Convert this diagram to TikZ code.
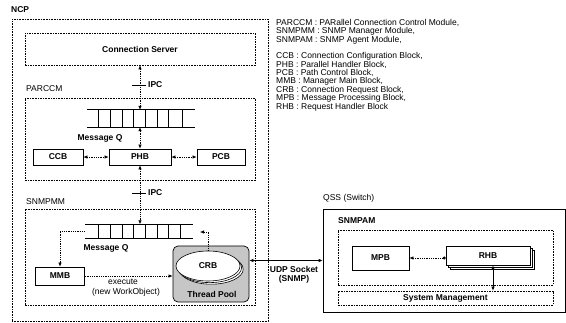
\documentclass[tikz,border=0pt]{standalone}
\usepackage{fontspec}
\setmainfont{Liberation Sans}
\usetikzlibrary{arrows.meta,shapes.geometric,shadows}
\begin{document}
\begin{tikzpicture}[x=1pt,y=-1pt,
  every node/.style={font=\fontsize{8.5}{8.5}\selectfont, inner sep=0pt},
  lbl/.style={font=\fontsize{8.5}{8.5}\selectfont\bfseries},
  ncpbox/.style={draw, line width=0.9pt, dash pattern=on 1pt off 0.6pt},
  dbox/.style={draw, line width=0.6pt, dash pattern=on 1.6pt off 1pt},
  sbox/.style={draw, line width=0.7pt},
  conn/.style={line width=0.6pt, dash pattern=on 1pt off 0.8pt, >={Latex[length=4pt,width=3.4pt]}},
  sconn/.style={line width=0.7pt, >={Latex[length=4pt,width=3.4pt]}},
  qline/.style={line width=0.8pt},
  qbar/.style={line width=0.5pt},
  tickline/.style={line width=0.7pt}]
\useasboundingbox (0,0) rectangle (566,323);

% ---------------- NCP ----------------
\node[anchor=west, lbl] (ncpl) at (11,10) {NCP};
\node[ncpbox, minimum width=256, minimum height=302] (ncp) at (140,170) {};

\node[dbox, minimum width=230, minimum height=32, lbl] (cs) at (140,49) {Connection Server};

% PARCCM
\node[anchor=west] (parl) at (26,89) {PARCCM};
\node[dbox, minimum width=230, minimum height=82] (par) at (140,139) {};
\node[minimum width=108, minimum height=17] (q1) at (141,118.5) {};
\draw[qline] (q1.north west) -- (q1.north east) (q1.south west) -- (q1.south east);
\foreach \x in {98,110,122,133,145,157,168,182} \draw[qbar] (\x,110) -- (\x,127);
\node[lbl] (mq1) at (100,138) {Message Q};

\node[sbox, minimum width=50, minimum height=16, lbl] (ccb) at (58,157) {CCB};
\node[sbox, minimum width=62, minimum height=16, lbl] (phb) at (140,157) {PHB};
\node[sbox, minimum width=48, minimum height=16, lbl] (pcb) at (221,157) {PCB};

\draw[conn,<->] (cs.south) -- (cs.south |- q1.north);
\coordinate (t1a) at (132,85);
\coordinate (t1b) at (146,85);
\draw[tickline] (t1a) -- (t1b);
\node[anchor=west, lbl] (ipc1) at (148,85) {IPC};
\draw[conn,<->] (phb.north |- q1.south) -- (phb.north);
\draw[conn,<->] (ccb.east) -- (phb.west);
\draw[conn,<->] (phb.east) -- (pcb.west);

% SNMPMM
\node[anchor=west] (snmpl) at (26,202) {SNMPMM};
\node[dbox, minimum width=230, minimum height=96] (snm) at (140,257) {};
\node[minimum width=108, minimum height=14] (q2) at (139,231.5) {};
\draw[qline] (q2.north west) -- (q2.north east) (q2.south west) -- (q2.south east);
\foreach \x in {98,110,122,133,145,157,168,180} \draw[qbar] (\x,224.5) -- (\x,238.5);
\node[lbl] (mq2) at (106,248) {Message Q};

\draw[conn,<->] (phb.south) -- (phb.south |- q2.north);
\coordinate (t2a) at (132,193);
\coordinate (t2b) at (146,193);
\draw[tickline] (t2a) -- (t2b);
\node[anchor=west, lbl] (ipc2) at (148,193) {IPC};

\node[sbox, minimum width=49, minimum height=18, lbl] (mmb) at (60,276) {MMB};
\draw[conn,->] (q2.west) -| (mmb.north);

\node[draw, line width=0.7pt, rounded corners=5pt, fill=gray!45, minimum width=76, minimum height=56] (tp) at (211,274) {};
\node[ellipse, draw, line width=0.6pt, fill=white, minimum width=64, minimum height=30,
  double copy shadow={shadow xshift=1.6pt, shadow yshift=-1.6pt, draw, fill=white}, lbl] (crb) at (208,266) {CRB};
\node[lbl] (tpl) at (212,294) {Thread Pool};

\draw[conn,->] (mmb.east) -- (mmb.east -| tp.west);
\node (exe) at (123,282) {execute};
\node (nwo) at (126,292) {(new WorkObject)};

\coordinate (qret) at (200,232);
\draw[conn,->] (crb.north) |- (qret);

% ---------------- QSS ----------------
\node[anchor=west] (qssl) at (323,198) {QSS (Switch)};
\node[sbox, line width=0.6pt, minimum width=242, minimum height=103] (qss) at (444,260.5) {};
\node[anchor=west, lbl] (snal) at (338,221) {SNMPAM};
\node[dbox, minimum width=215, minimum height=55] (sna) at (445.5,257.5) {};
\node[sbox, minimum width=57, minimum height=24, lbl] (mpb) at (380.5,258) {MPB};
\node[sbox, fill=white, minimum width=84, minimum height=19,
  double copy shadow={shadow xshift=2pt, shadow yshift=-2pt, draw, fill=white}, lbl] (rhb) at (488,255.5) {RHB};
\node[dbox, minimum width=215, minimum height=14, lbl] (sm) at (445.5,298) {System Management};

\draw[conn,{Latex[length=4pt,width=3.4pt]}-{Circle[length=3pt]}] (mpb.east) -- (mpb.east -| rhb.west);
\draw[sconn,<->] ([xshift=5pt]rhb.south) -- ([xshift=5pt]rhb.south |- sm.north);

\draw[sconn,<->] (tp.east |- qss.west) -- (qss.west);
\node[lbl, align=center] (udp) at (294,275) {UDP Socket\\(SNMP)};

% ---------------- Legend ----------------
\foreach [count=\i] \t/\y in {{PARCCM : PARallel Connection Control Module,}/23,
  {SNMPMM : SNMP Manager Module,}/31.5,
  {SNMPAM : SNMP Agent Module,}/40}
  \node[anchor=west] (la\i) at (276,\y) {\t};
\foreach [count=\i] \t/\y in {{CCB : Connection Configuration Block,}/56,
  {PHB : Parallel Handler Block,}/64.5,
  {PCB : Path Control Block,}/73,
  {MMB : Manager Main Block,}/81.5,
  {CRB : Connection Request Block,}/90,
  {MPB : Message Processing Block,}/98.5,
  {RHB : Request Handler Block}/107}
  \node[anchor=west] (lb\i) at (276,\y) {\t};
\end{tikzpicture}
\end{document}
